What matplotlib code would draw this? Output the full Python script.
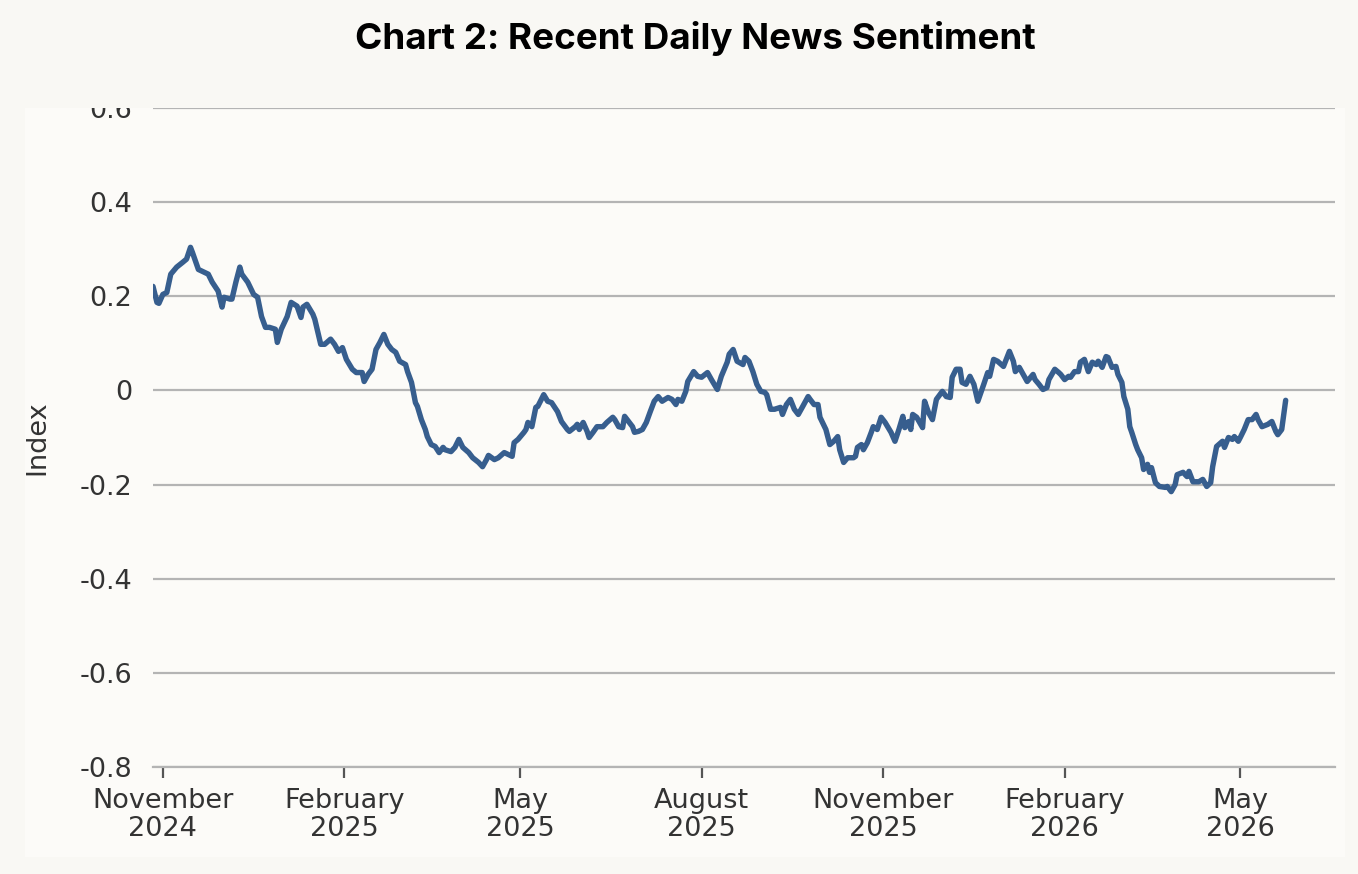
import pandas as pd
import matplotlib
matplotlib.use("Agg")
import matplotlib.pyplot as plt
import matplotlib.dates as mdates
from matplotlib.patches import Rectangle
from matplotlib.ticker import FixedLocator, FuncFormatter
from matplotlib.transforms import Bbox, TransformedBbox

# daily news sentiment index
dates = [
    "2024-10-27", "2024-10-29", "2024-10-30", "2024-11-01", "2024-11-03", "2024-11-05",
    "2024-11-08", "2024-11-11", "2024-11-13", "2024-11-15", "2024-11-16", "2024-11-19",
    "2024-11-21", "2024-11-24", "2024-11-26", "2024-11-29", "2024-12-01", "2024-12-02",
    "2024-12-05", "2024-12-06", "2024-12-08", "2024-12-10", "2024-12-11", "2024-12-14",
    "2024-12-17", "2024-12-19", "2024-12-21", "2024-12-23", "2024-12-25", "2024-12-28",
    "2024-12-29", "2024-12-31", "2025-01-03", "2025-01-05", "2025-01-08", "2025-01-10",
    "2025-01-11", "2025-01-13", "2025-01-16", "2025-01-17", "2025-01-20", "2025-01-22",
    "2025-01-25", "2025-01-27", "2025-01-29", "2025-01-31", "2025-02-02", "2025-02-05",
    "2025-02-07", "2025-02-10", "2025-02-11", "2025-02-13", "2025-02-15", "2025-02-17",
    "2025-02-19", "2025-02-21", "2025-02-23", "2025-02-25", "2025-02-27", "2025-03-01",
    "2025-03-04", "2025-03-05", "2025-03-07", "2025-03-09", "2025-03-10", "2025-03-12",
    "2025-03-14", "2025-03-15", "2025-03-17", "2025-03-19", "2025-03-21", "2025-03-23",
    "2025-03-24", "2025-03-27", "2025-03-29", "2025-03-31", "2025-04-02", "2025-04-05",
    "2025-04-07", "2025-04-10", "2025-04-12", "2025-04-14", "2025-04-15", "2025-04-18",
    "2025-04-20", "2025-04-23", "2025-04-25", "2025-04-27", "2025-04-28", "2025-04-30",
    "2025-05-03", "2025-05-04", "2025-05-05", "2025-05-07", "2025-05-09", "2025-05-10",
    "2025-05-13", "2025-05-15", "2025-05-17", "2025-05-20", "2025-05-22", "2025-05-25",
    "2025-05-26", "2025-05-29", "2025-05-30", "2025-05-31", "2025-06-02", "2025-06-04",
    "2025-06-05", "2025-06-07", "2025-06-09", "2025-06-12", "2025-06-14", "2025-06-17",
    "2025-06-18", "2025-06-20", "2025-06-22", "2025-06-23", "2025-06-25", "2025-06-27",
    "2025-06-28", "2025-06-30", "2025-07-02", "2025-07-04", "2025-07-06", "2025-07-08",
    "2025-07-10", "2025-07-12", "2025-07-15", "2025-07-17", "2025-07-19", "2025-07-20",
    "2025-07-22", "2025-07-24", "2025-07-25", "2025-07-28", "2025-07-30", "2025-08-01",
    "2025-08-04", "2025-08-06", "2025-08-09", "2025-08-11", "2025-08-14", "2025-08-15",
    "2025-08-17", "2025-08-19", "2025-08-22", "2025-08-23", "2025-08-25", "2025-08-27",
    "2025-08-29", "2025-08-31", "2025-09-02", "2025-09-03", "2025-09-05", "2025-09-07",
    "2025-09-10", "2025-09-11", "2025-09-13", "2025-09-15", "2025-09-17", "2025-09-19",
    "2025-09-21", "2025-09-24", "2025-09-25", "2025-09-27", "2025-09-29", "2025-09-30",
    "2025-10-03", "2025-10-05", "2025-10-07", "2025-10-09", "2025-10-10", "2025-10-12",
    "2025-10-14", "2025-10-17", "2025-10-18", "2025-10-19", "2025-10-21", "2025-10-22",
    "2025-10-24", "2025-10-26", "2025-10-27", "2025-10-29", "2025-10-31", "2025-11-02",
    "2025-11-05", "2025-11-07", "2025-11-09", "2025-11-11", "2025-11-12", "2025-11-14",
    "2025-11-15", "2025-11-16", "2025-11-18", "2025-11-21", "2025-11-22", "2025-11-24",
    "2025-11-26", "2025-11-28", "2025-12-01", "2025-12-03", "2025-12-05", "2025-12-06",
    "2025-12-08", "2025-12-10", "2025-12-11", "2025-12-13", "2025-12-15", "2025-12-17",
    "2025-12-19", "2025-12-22", "2025-12-24", "2025-12-25", "2025-12-27", "2025-12-29",
    "2026-01-01", "2026-01-04", "2026-01-06", "2026-01-07", "2026-01-09", "2026-01-11",
    "2026-01-13", "2026-01-16", "2026-01-17", "2026-01-19", "2026-01-21", "2026-01-23",
    "2026-01-24", "2026-01-27", "2026-01-29", "2026-01-30", "2026-02-01", "2026-02-03",
    "2026-02-04", "2026-02-06", "2026-02-08", "2026-02-09", "2026-02-11", "2026-02-13",
    "2026-02-15", "2026-02-17", "2026-02-18", "2026-02-20", "2026-02-22", "2026-02-23",
    "2026-02-25", "2026-02-27", "2026-02-28", "2026-03-02", "2026-03-03", "2026-03-05",
    "2026-03-06", "2026-03-07", "2026-03-09", "2026-03-10", "2026-03-12", "2026-03-13",
    "2026-03-15", "2026-03-16", "2026-03-17", "2026-03-19", "2026-03-21", "2026-03-24",
    "2026-03-25", "2026-03-27", "2026-03-29", "2026-03-30", "2026-04-02", "2026-04-04",
    "2026-04-05", "2026-04-07", "2026-04-10", "2026-04-12", "2026-04-14", "2026-04-16",
    "2026-04-17", "2026-04-19", "2026-04-22", "2026-04-23", "2026-04-25", "2026-04-27",
    "2026-04-28", "2026-04-30", "2026-05-01", "2026-05-03", "2026-05-05", "2026-05-07",
    "2026-05-09", "2026-05-10", "2026-05-12", "2026-05-15", "2026-05-17", "2026-05-19",
    "2026-05-20", "2026-05-22", "2026-05-24",
]
sentiment = [
    0.221, 0.187, 0.185, 0.204, 0.208, 0.247,
    0.262, 0.272, 0.279, 0.304, 0.293, 0.257,
    0.253, 0.247, 0.230, 0.211, 0.177, 0.198,
    0.194, 0.194, 0.230, 0.262, 0.247, 0.230,
    0.204, 0.198, 0.157, 0.134, 0.134, 0.130,
    0.102, 0.130, 0.157, 0.187, 0.179, 0.155,
    0.177, 0.183, 0.162, 0.151, 0.098, 0.098,
    0.109, 0.098, 0.083, 0.091, 0.066, 0.045,
    0.038, 0.038, 0.019, 0.034, 0.045, 0.087,
    0.102, 0.119, 0.098, 0.087, 0.081, 0.062,
    0.055, 0.040, 0.017, -0.026, -0.034, -0.062,
    -0.083, -0.098, -0.115, -0.119, -0.132, -0.121,
    -0.126, -0.130, -0.121, -0.104, -0.121, -0.132,
    -0.143, -0.153, -0.162, -0.147, -0.138, -0.147,
    -0.143, -0.132, -0.136, -0.140, -0.111, -0.104,
    -0.089, -0.083, -0.068, -0.077, -0.036, -0.034,
    -0.009, -0.023, -0.026, -0.045, -0.066, -0.083,
    -0.087, -0.077, -0.072, -0.083, -0.068, -0.087,
    -0.100, -0.089, -0.077, -0.077, -0.068, -0.057,
    -0.062, -0.077, -0.079, -0.055, -0.066, -0.077,
    -0.089, -0.087, -0.083, -0.068, -0.045, -0.023,
    -0.013, -0.023, -0.015, -0.019, -0.030, -0.019,
    -0.023, -0.002, 0.019, 0.040, 0.030, 0.028,
    0.038, 0.023, 0.002, 0.030, 0.060, 0.077,
    0.087, 0.062, 0.055, 0.070, 0.062, 0.040,
    0.013, -0.002, -0.004, -0.009, -0.040, -0.040,
    -0.036, -0.051, -0.030, -0.019, -0.040, -0.051,
    -0.036, -0.013, -0.019, -0.030, -0.030, -0.057,
    -0.083, -0.115, -0.108, -0.098, -0.126, -0.153,
    -0.143, -0.143, -0.140, -0.121, -0.115, -0.126,
    -0.111, -0.089, -0.077, -0.083, -0.057, -0.068,
    -0.089, -0.108, -0.083, -0.055, -0.079, -0.066,
    -0.083, -0.051, -0.057, -0.079, -0.023, -0.047,
    -0.062, -0.019, -0.002, -0.013, -0.015, 0.028,
    0.045, 0.045, 0.017, 0.013, 0.030, 0.013,
    -0.023, 0.013, 0.038, 0.030, 0.066, 0.062,
    0.051, 0.083, 0.062, 0.040, 0.049, 0.034,
    0.019, 0.034, 0.023, 0.013, 0.002, 0.006,
    0.023, 0.045, 0.038, 0.034, 0.023, 0.030,
    0.028, 0.040, 0.040, 0.060, 0.066, 0.040,
    0.060, 0.055, 0.062, 0.049, 0.072, 0.070,
    0.049, 0.051, 0.034, 0.017, -0.013, -0.040,
    -0.077, -0.089, -0.115, -0.126, -0.143, -0.168,
    -0.157, -0.174, -0.164, -0.196, -0.204, -0.206,
    -0.204, -0.215, -0.200, -0.179, -0.174, -0.183,
    -0.172, -0.194, -0.194, -0.189, -0.204, -0.196,
    -0.162, -0.119, -0.108, -0.121, -0.100, -0.104,
    -0.098, -0.108, -0.100, -0.083, -0.062, -0.062,
    -0.051, -0.062, -0.077, -0.072, -0.066, -0.087,
    -0.094, -0.083, -0.021,
]

y_ticks = [0.6, 0.4, 0.2, 0, -0.2, -0.4, -0.6, -0.8]
x_ticks = ["2024-11-01", "2025-02-01", "2025-05-01", "2025-08-01",
           "2025-11-01", "2026-02-01", "2026-05-01"]

x = pd.to_datetime(dates)

bg_outer = "#f9f8f4"
bg_panel = "#fcfbf8"
text_col = "#333333"
grid_col = "#b4b4b4"
line_col = "#375e8e"

fig = plt.figure(figsize=(13.58, 8.74), dpi=100)
fig.patch.set_facecolor(bg_outer)

# light inner panel behind the plot
panel_top = 1 - 108 / 874
panel_bot = 1 - 857 / 874
fig.patches.append(Rectangle((25 / 1358, panel_bot), (1345 - 25) / 1358,
                             panel_top - panel_bot, transform=fig.transFigure,
                             facecolor=bg_panel, edgecolor="none", zorder=-5))

ax = fig.add_axes([153 / 1358, 1 - 767 / 874, (1335 - 153) / 1358, (767 - 108) / 874])
ax.set_zorder(2)
ax.set_facecolor("none")

ax.plot(x, sentiment, color=line_col, linewidth=3.9, solid_joinstyle="round",
        solid_capstyle="round", zorder=3)

ax.set_ylim(-0.8, 0.6)
ax.set_xlim(pd.Timestamp("2024-10-27"), pd.Timestamp("2026-06-18"))
ax.yaxis.set_major_locator(FixedLocator(y_ticks))
ax.yaxis.set_major_formatter(FuncFormatter(lambda v, p: "0" if abs(v) < 1e-9 else f"{v:.1f}"))
ax.xaxis.set_major_locator(FixedLocator(mdates.date2num(pd.to_datetime(x_ticks))))
ax.xaxis.set_major_formatter(mdates.DateFormatter("%B\n%Y"))

ax.grid(axis="y", color=grid_col, linewidth=1.6, zorder=1)
ax.set_axisbelow(True)
for s in ["left", "right", "top"]:
    ax.spines[s].set_visible(False)
ax.spines["bottom"].set_color(grid_col)
ax.spines["bottom"].set_linewidth(1.6)

ax.tick_params(axis="y", length=0, pad=15, labelsize=19.5, labelcolor=text_col)
ax.tick_params(axis="x", length=8, width=1.6, color="#555555", pad=7,
               labelsize=19.5, labelcolor=text_col)
for lab in ax.get_xticklabels():
    lab.set_linespacing(1.12)

ax.set_ylabel("Index", fontsize=19.5, color=text_col, labelpad=21)

# top tick label is cut off by the panel edge
clip = TransformedBbox(Bbox([[0, 0], [1, panel_top]]), fig.transFigure)
for lab in ax.get_yticklabels():
    lab.set_clip_on(True)
    lab.set_clip_box(clip)

fig.text(695 / 1358, 1 - 38 / 874, "Chart 2: Recent Daily News Sentiment",
         ha="center", va="center", fontsize=26.5, fontweight="bold",
         family="Inter", color="#000000")

fig.savefig("out.png", dpi=100, facecolor=fig.get_facecolor())
